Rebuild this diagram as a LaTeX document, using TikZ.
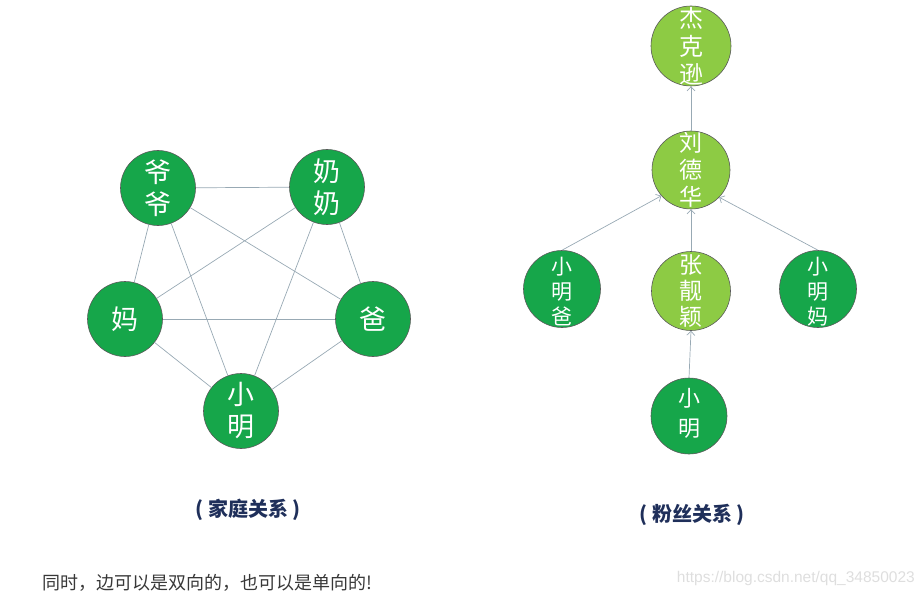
\documentclass[tikz,border=0pt]{standalone}
\usepackage{fontspec}
\newfontfamily\cjk{Noto Sans CJK SC}
\setmainfont{Noto Sans CJK SC}
\usetikzlibrary{arrows.meta}
\definecolor{dkgreen}{HTML}{16A64A}
\definecolor{ltgreen}{HTML}{8DCB44}
\definecolor{edgecol}{HTML}{98A9B4}
\definecolor{navy}{HTML}{1F2F5A}
\tikzset{
  x=1pt, y=-1pt,
  famnode/.style={circle, fill=dkgreen, draw=black!65, line width=0.6pt, minimum size=75pt, inner sep=0pt, text=white, font=\cjk\fontsize{27}{32}\selectfont, align=center},
  fannode/.style={circle, draw=black!65, line width=0.6pt, minimum size=#1, inner sep=0pt},
  fanlabel/.style={text=white, align=center, inner sep=0pt},
  edge/.style={draw=edgecol, line width=0.7pt},
  arr/.style={draw=edgecol, line width=0.7pt, -{Straight Barb[length=4pt,width=8pt]}},
  caption/.style={text=navy, font=\cjk\bfseries\fontsize{20}{24}\selectfont}
}
\begin{document}
\begin{tikzpicture}
\useasboundingbox (0,0) rectangle (923,596);
% family graph
\node[famnode] (yeye) at (158,188) {爷\\爷};
\node[famnode] (nainai) at (327,187) {奶\\奶};
\node[famnode] (ma) at (125,319) {妈};
\node[famnode] (ba) at (373,319) {爸};
\node[famnode] (xm) at (241,411) {小\\明};
\draw[edge] (yeye) -- (nainai);
\draw[edge] (yeye) -- (ma);
\draw[edge] (yeye) -- (ba);
\draw[edge] (yeye) -- (xm);
\draw[edge] (nainai) -- (ma);
\draw[edge] (nainai) -- (ba);
\draw[edge] (nainai) -- (xm);
\draw[edge] (ma) -- (ba);
\draw[edge] (ma) -- (xm);
\draw[edge] (ba) -- (xm);
% fan graph
\node[fannode=80pt, fill=ltgreen, path picture={\node[fanlabel, font=\cjk\fontsize{24}{28}\selectfont] at (path picture bounding box.center) {杰\\克\\逊};}] (jks) at (691,46) {};
\node[fannode=78pt, fill=ltgreen, path picture={\node[fanlabel, font=\cjk\fontsize{23}{27}\selectfont] at (path picture bounding box.center) {刘\\德\\华};}] (ldh) at (691,170) {};
\node[fannode=77pt, fill=dkgreen, path picture={\node[fanlabel, font=\cjk\fontsize{21}{25}\selectfont] at ([yshift=-3pt]path picture bounding box.center) {小\\明\\爸};}] (xmb) at (562,289) {};
\node[fannode=79pt, fill=ltgreen, path picture={\node[fanlabel, font=\cjk\fontsize{23}{26}\selectfont] at (path picture bounding box.center) {张\\靓\\颖};}] (zly) at (691,291) {};
\node[fannode=77pt, fill=dkgreen, path picture={\node[fanlabel, font=\cjk\fontsize{21}{25}\selectfont] at ([yshift=-3pt]path picture bounding box.center) {小\\明\\妈};}] (xmm) at (818,289) {};
\node[fannode=76pt, fill=dkgreen, path picture={\node[fanlabel, font=\cjk\fontsize{22}{30}\selectfont] at ([yshift=3pt]path picture bounding box.center) {小\\明};}] (xm2) at (689,416) {};
\draw[arr] (ldh.north) -- (jks.south);
\draw[arr] (xmb.north) -- (ldh.221);
\draw[arr] (zly.north) -- (ldh.south);
\draw[arr] (xmm.north) -- (ldh.316);
\draw[arr] (xm2.north) -- (zly.south);
% captions
\node[caption] (cap1) at (248,510) {( 家庭关系 )};
\node[caption] (cap2) at (692,515) {( 粉丝关系 )};
\node[anchor=west, text=black!78, font=\cjk\fontsize{18}{20}\selectfont, inner sep=0pt] (note) at (42,583) {同时，边可以是双向的，也可以是单向的!};
\node[anchor=east, text=black!13, font=\fontspec{Liberation Sans}\fontsize{15.5}{18}\selectfont, inner sep=0pt] (wm) at (915,578) {https://blog.csdn.net/qq\_34850023};
\end{tikzpicture}
\end{document}
